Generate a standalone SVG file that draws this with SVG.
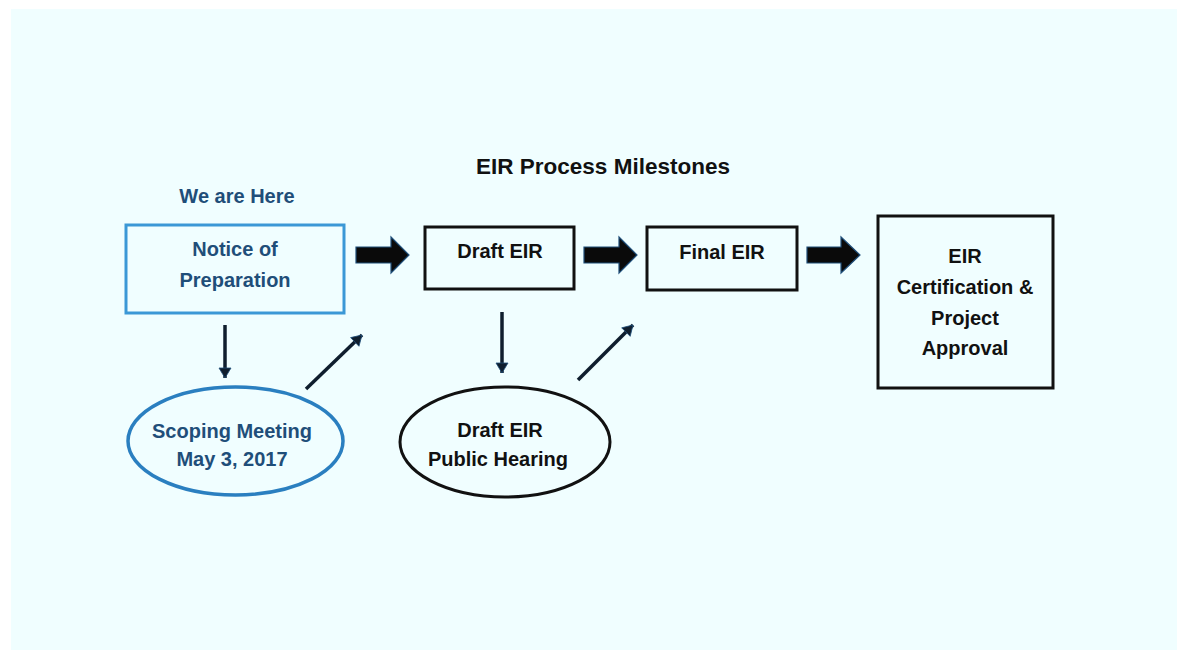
<svg xmlns="http://www.w3.org/2000/svg" width="1177" height="650" viewBox="0 0 1177 650">
<style>
  text { font-family: "Liberation Sans", Arial, sans-serif; font-weight: bold; text-anchor: middle; }
  .blk { fill: #111111; font-size: 20px; }
  .blue { fill: #1F4E79; font-size: 20px; }
  .box { fill: none; stroke: #111111; stroke-width: 3; }
  .bbox { fill: none; stroke: #3B98D6; stroke-width: 3; }
  .bell { fill: none; stroke: #2A7FC0; stroke-width: 3.5; }
  .blockarrow { fill: #0A0A0A; stroke: #1F4E79; stroke-width: 1.2; stroke-linejoin: miter; }
  .thin { stroke: #0F1E2E; stroke-width: 3.5; fill: none; marker-end: url(#head); }
</style>
<defs>
  <marker id="head" markerUnits="userSpaceOnUse" markerWidth="14" markerHeight="14" viewBox="0 0 14 14" refX="12" refY="7" orient="auto">
    <path d="M2,1 L12,7 L2,13 Z" fill="#0F1E2E" stroke="#1F4E79" stroke-width="0.8"/>
  </marker>
</defs>
<rect x="0" y="0" width="1177" height="650" fill="#FFFFFF"/>
<rect x="11" y="9" width="1166" height="641" fill="#F0FEFF"/>

<text id="title" x="603" y="174" class="blk" style="font-size:22.5px">EIR Process Milestones</text>
<text id="here" x="237" y="203" class="blue">We are Here</text>

<g id="node-nop">
  <rect x="126" y="225" width="218" height="88" class="bbox"/>
  <text x="235" y="256" class="blue">Notice of</text>
  <text x="235" y="287" class="blue">Preparation</text>
</g>
<g id="node-draft">
  <rect x="425" y="227" width="149" height="62" class="box"/>
  <text x="500" y="258" class="blk">Draft EIR</text>
</g>
<g id="node-final">
  <rect x="647" y="227" width="150" height="63" class="box"/>
  <text x="722" y="259" class="blk">Final EIR</text>
</g>
<g id="node-cert">
  <rect x="878" y="216" width="175" height="172" class="box"/>
  <text x="965" y="263" class="blk">EIR</text>
  <text x="965" y="294" class="blk">Certification &amp;</text>
  <text x="965" y="325" class="blk">Project</text>
  <text x="965" y="355" class="blk">Approval</text>
</g>
<g id="node-scoping">
  <ellipse cx="235.5" cy="441" rx="107.5" ry="54" class="bell"/>
  <text x="232" y="438" class="blue">Scoping Meeting</text>
  <text x="232" y="466" class="blue">May 3, 2017</text>
</g>
<g id="node-hearing">
  <ellipse cx="505" cy="442" rx="105" ry="55" class="box"/>
  <text x="500" y="437" class="blk">Draft EIR</text>
  <text x="498" y="466" class="blk">Public Hearing</text>
</g>

<g id="connectors">
  <polygon class="blockarrow" points="356,247 391,247 391,237 409,255 391,273 391,263 356,263"/>
  <polygon class="blockarrow" points="584,247 619,247 619,237 637,255 619,273 619,263 584,263"/>
  <polygon class="blockarrow" points="807,247 841,247 841,237 860,255 841,273 841,263 807,263"/>
  <line class="thin" x1="225" y1="325" x2="225" y2="378"/>
  <line class="thin" x1="306" y1="389" x2="362" y2="335"/>
  <line class="thin" x1="502" y1="312" x2="502" y2="373"/>
  <line class="thin" x1="578" y1="380" x2="633" y2="325"/>
</g>
</svg>
